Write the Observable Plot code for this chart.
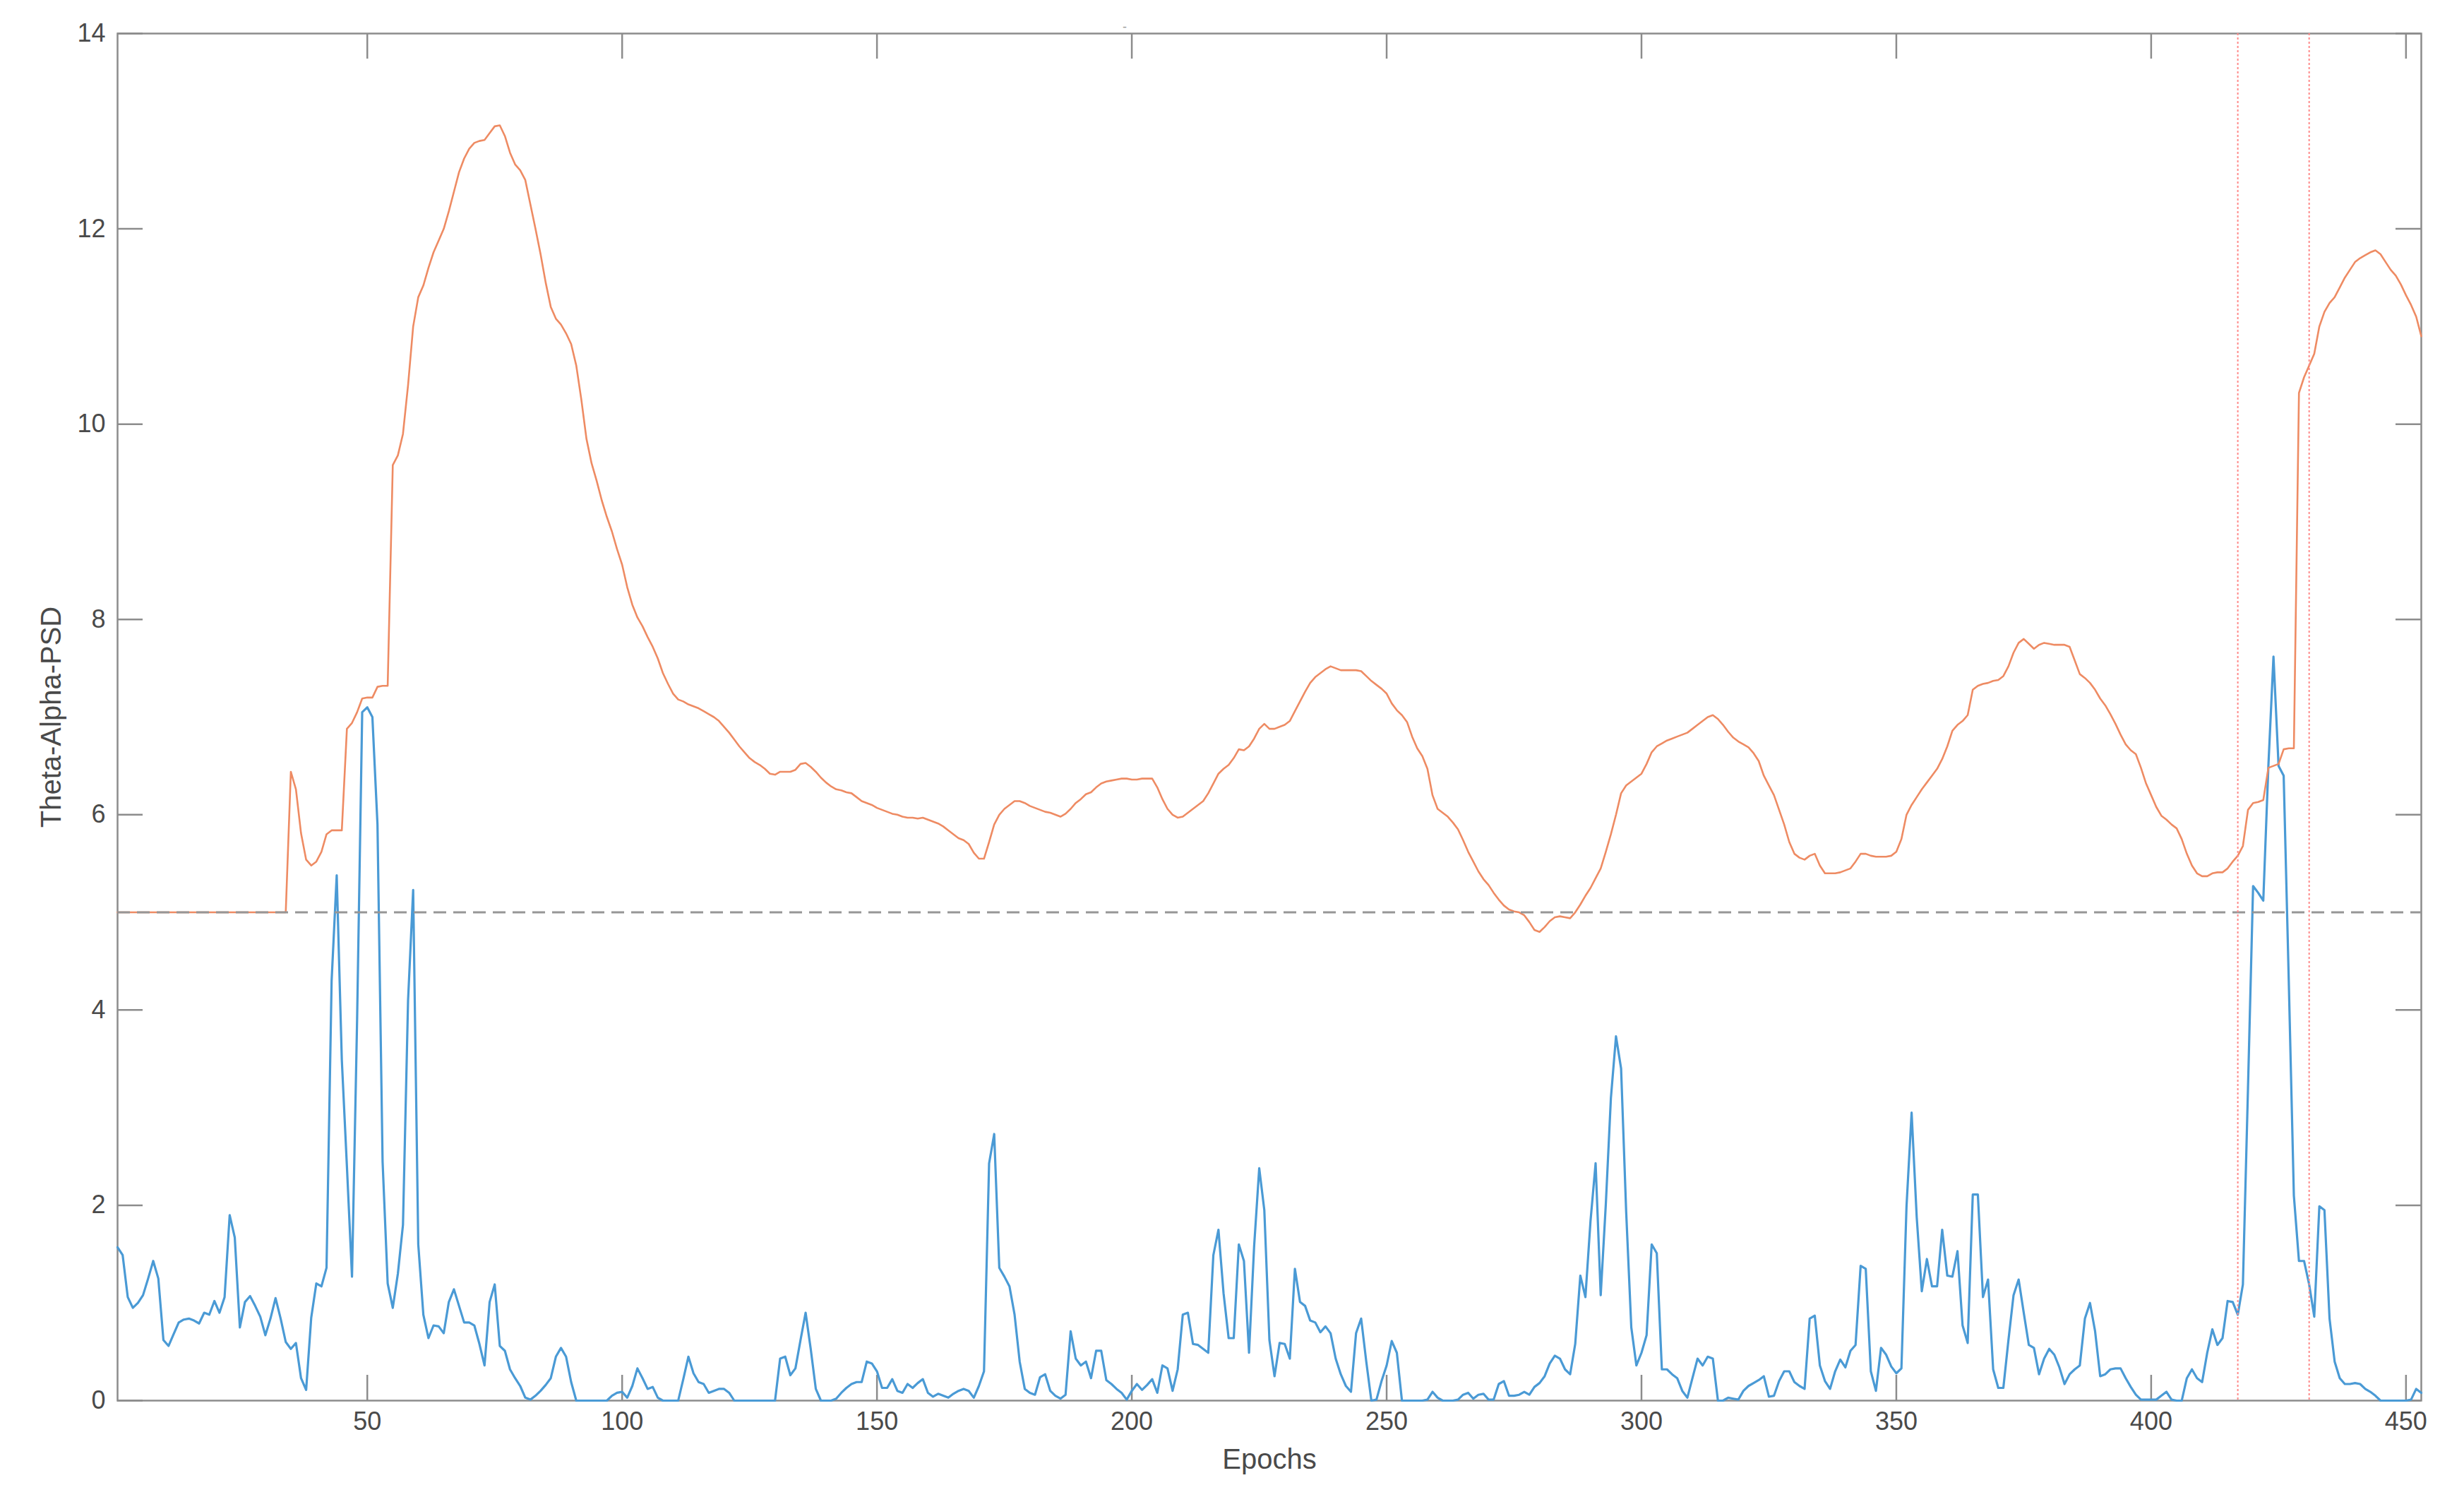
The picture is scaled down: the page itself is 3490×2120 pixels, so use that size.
<!DOCTYPE html>
<html>
<head>
<meta charset="utf-8">
<script src="https://cdn.jsdelivr.net/npm/d3@7"></script>
<script src="https://cdn.jsdelivr.net/npm/@observablehq/plot@0.6"></script>
<style>
  html, body { margin: 0; padding: 0; background: #ffffff; }
  #chart { width: 3490px; height: 2120px; }
</style>
</head>
<body>
<div id="chart"></div>
<script>
// ---------- data ----------
const firstEpoch = 1;
const xTicks = [50, 100, 150, 200, 250, 300, 350, 400, 450];
const yTicks = [0, 2, 4, 6, 8, 10, 12, 14];
const xLabel = "Epochs";
const yLabel = "Theta-Alpha-PSD";
const titleText = "-";
const threshold = 5;
const markerEpochs = [417, 431];

// blue series: per-epoch value
const thetaAlphaPSD = [
  1.57,1.49,1.06,0.95,1.00,1.08,1.25,1.43,1.25,0.62,
  0.56,0.68,0.80,0.83,0.84,0.82,0.79,0.90,0.88,1.02,
  0.90,1.06,1.90,1.67,0.75,1.01,1.07,0.97,0.86,0.67,
  0.84,1.05,0.84,0.60,0.53,0.59,0.23,0.11,0.85,1.20,
  1.17,1.36,4.30,5.38,3.49,2.40,1.27,3.90,7.05,7.10,
  7.00,5.90,2.45,1.20,0.95,1.30,1.80,4.10,5.23,1.60,
  0.88,0.64,0.77,0.76,0.69,1.01,1.14,0.97,0.80,0.80,
  0.77,0.58,0.36,1.01,1.19,0.56,0.51,0.32,0.23,0.15,
  0.03,0.01,0.05,0.10,0.16,0.23,0.45,0.54,0.45,0.19,
  0,0,0,0,0,0,0,0.05,0.08,0.09,
  0.03,0.15,0.33,0.23,0.12,0.14,0.03,0,0,0,
  0,0.22,0.45,0.28,0.19,0.17,0.08,0.10,0.12,0.12,
  0.08,0,0,0,0,0,0,0,0,0,
  0.43,0.45,0.26,0.33,0.62,0.90,0.53,0.12,0,0,
  0,0.02,0.08,0.13,0.17,0.19,0.19,0.40,0.38,0.30,
  0.13,0.13,0.22,0.10,0.08,0.17,0.13,0.18,0.22,0.08,
  0.04,0.07,0.05,0.03,0.07,0.10,0.12,0.10,0.03,0.15,
  0.30,2.43,2.73,1.36,1.27,1.17,0.88,0.40,0.12,0.08,
  0.06,0.24,0.27,0.10,0.05,0.02,0.06,0.71,0.43,0.36,
  0.40,0.23,0.51,0.51,0.21,0.17,0.12,0.08,0.01,0.10,
  0.17,0.11,0.16,0.22,0.08,0.36,0.33,0.10,0.32,0.88,
  0.90,0.58,0.57,0.53,0.49,1.49,1.75,1.10,0.64,0.64,
  1.60,1.43,0.49,1.58,2.38,1.95,0.62,0.25,0.59,0.58,
  0.43,1.35,1.01,0.97,0.82,0.80,0.70,0.76,0.69,0.43,
  0.27,0.15,0.09,0.69,0.84,0.40,0,0.01,0.20,0.36,
  0.61,0.49,0,0,0,0,0,0.01,0.09,0.03,
  0,0,0,0.01,0.06,0.08,0.02,0.06,0.07,0.01,
  0.01,0.17,0.20,0.05,0.05,0.06,0.09,0.06,0.14,0.18,
  0.25,0.38,0.46,0.43,0.32,0.27,0.58,1.28,1.06,1.84,
  2.43,1.08,2.01,3.10,3.73,3.40,1.93,0.75,0.36,0.49,
  0.67,1.60,1.51,0.32,0.32,0.27,0.23,0.10,0.03,0.23,
  0.43,0.36,0.45,0.43,0,0,0.03,0.02,0.01,0.10,
  0.15,0.18,0.21,0.25,0.04,0.05,0.20,0.30,0.30,0.19,
  0.15,0.12,0.84,0.87,0.36,0.20,0.12,0.30,0.42,0.34,
  0.51,0.57,1.38,1.35,0.30,0.10,0.54,0.47,0.35,0.28,
  0.33,1.99,2.95,1.88,1.12,1.45,1.17,1.17,1.75,1.28,
  1.27,1.53,0.77,0.59,2.11,2.11,1.06,1.24,0.32,0.13,
  0.13,0.62,1.08,1.24,0.90,0.57,0.54,0.27,0.43,0.53,
  0.47,0.34,0.17,0.27,0.32,0.36,0.84,1.00,0.71,0.25,
  0.27,0.32,0.33,0.33,0.23,0.14,0.06,0.01,0.01,0.01,
  0.01,0.05,0.09,0.01,0,0,0.23,0.32,0.23,0.19,
  0.49,0.73,0.57,0.64,1.02,1.01,0.88,1.19,3.20,5.27,
  5.20,5.12,6.50,7.62,6.50,6.40,4.30,2.10,1.43,1.43,
  1.19,0.86,1.99,1.95,0.84,0.40,0.23,0.17,0.17,0.18,
  0.17,0.12,0.09,0.05,0,0,0,0,0,0,
  0.01,0.12,0.08
];

// orange series: per-epoch value
const smoothedPSD = [
  5,5,5,5,5,5,5,5,5,5,
  5,5,5,5,5,5,5,5,5,5,
  5,5,5,5,5,5,5,5,5,5,
  5,5,5,5,6.44,6.26,5.81,5.54,5.48,5.52,
  5.62,5.80,5.84,5.84,5.84,6.88,6.94,7.05,7.19,7.20,
  7.20,7.31,7.32,7.32,9.58,9.68,9.90,10.40,11.00,11.30,
  11.42,11.60,11.76,11.88,12.00,12.18,12.38,12.58,12.72,12.82,
  12.88,12.90,12.91,12.98,13.05,13.06,12.95,12.78,12.66,12.60,
  12.50,12.25,12.00,11.74,11.45,11.20,11.08,11.02,10.93,10.82,
  10.60,10.25,9.85,9.60,9.42,9.22,9.05,8.90,8.72,8.56,
  8.33,8.15,8.02,7.93,7.82,7.72,7.60,7.45,7.34,7.24,
  7.18,7.16,7.13,7.11,7.09,7.06,7.03,7.00,6.96,6.90,
  6.84,6.77,6.70,6.64,6.58,6.54,6.51,6.47,6.42,6.41,
  6.44,6.44,6.44,6.46,6.52,6.53,6.49,6.44,6.38,6.33,
  6.29,6.26,6.25,6.23,6.22,6.18,6.14,6.12,6.10,6.07,
  6.05,6.03,6.01,6.00,5.98,5.97,5.97,5.96,5.97,5.95,
  5.93,5.91,5.88,5.84,5.80,5.76,5.74,5.70,5.61,5.55,
  5.55,5.72,5.90,6.00,6.06,6.10,6.14,6.14,6.12,6.09,
  6.07,6.05,6.03,6.02,6.00,5.98,6.01,6.06,6.12,6.16,
  6.21,6.23,6.28,6.32,6.34,6.35,6.36,6.37,6.37,6.36,
  6.36,6.37,6.37,6.37,6.28,6.16,6.06,6.00,5.97,5.98,
  6.02,6.06,6.10,6.14,6.22,6.32,6.42,6.47,6.51,6.58,
  6.67,6.66,6.70,6.78,6.88,6.93,6.88,6.88,6.90,6.92,
  6.96,7.06,7.16,7.26,7.35,7.41,7.45,7.49,7.52,7.50,
  7.48,7.48,7.48,7.48,7.47,7.42,7.37,7.33,7.29,7.24,
  7.14,7.07,7.02,6.95,6.80,6.68,6.60,6.47,6.20,6.06,
  6.02,5.98,5.92,5.85,5.74,5.62,5.52,5.42,5.34,5.28,
  5.20,5.13,5.07,5.03,5.01,5.00,4.97,4.90,4.82,4.80,
  4.85,4.91,4.95,4.96,4.95,4.94,5.00,5.08,5.17,5.25,
  5.35,5.45,5.62,5.80,6.00,6.22,6.30,6.34,6.38,6.42,
  6.52,6.64,6.70,6.73,6.76,6.78,6.80,6.82,6.84,6.88,
  6.92,6.96,7.00,7.02,6.98,6.92,6.85,6.79,6.75,6.72,
  6.69,6.63,6.55,6.40,6.30,6.20,6.05,5.90,5.72,5.60,
  5.56,5.54,5.58,5.60,5.48,5.40,5.40,5.40,5.41,5.43,
  5.45,5.52,5.60,5.60,5.58,5.57,5.57,5.57,5.58,5.62,
  5.75,6.00,6.10,6.18,6.26,6.33,6.40,6.47,6.57,6.70,
  6.86,6.92,6.96,7.02,7.28,7.32,7.34,7.35,7.37,7.38,
  7.42,7.52,7.66,7.76,7.80,7.75,7.70,7.74,7.76,7.75,
  7.74,7.74,7.74,7.72,7.58,7.44,7.40,7.35,7.28,7.19,
  7.12,7.03,6.93,6.82,6.72,6.66,6.62,6.48,6.32,6.20,
  6.08,5.99,5.95,5.90,5.86,5.75,5.60,5.48,5.40,5.37,
  5.37,5.40,5.41,5.41,5.45,5.52,5.58,5.68,6.05,6.12,
  6.13,6.15,6.48,6.50,6.52,6.67,6.68,6.68,10.32,10.48,
  10.60,10.72,11.00,11.15,11.24,11.30,11.40,11.50,11.58,11.66,
  11.70,11.73,11.76,11.78,11.74,11.66,11.58,11.52,11.43,11.32,
  11.22,11.10,10.90
];

// ---------- layout & style ----------
const W = 3490, H = 2120;
const mL = 166, mR = 61, mT = 47, mB = 137;
const innerW = W - mL - mR, innerH = H - mT - mB;
const tickLen = 36;
const axisColor = "#8c8c8c";
const textColor = "#4a4a4a";
const blueColor = "#4a9ad5";
const orangeColor = "#ee8b63";
const font = "'Liberation Sans', Arial, Helvetica, sans-serif";

const toRows = arr => arr.map((v, i) => ({epoch: firstEpoch + i, value: v}));
const blueRows = toRows(thetaAlphaPSD);
const orangeRows = toRows(smoothedPSD);
const lastEpoch = firstEpoch + thetaAlphaPSD.length - 1;

const chart = Plot.plot({
  width: W,
  height: H,
  marginLeft: mL,
  marginRight: mR,
  marginTop: mT,
  marginBottom: mB,
  style: {fontFamily: font, background: "#ffffff", color: textColor, overflow: "visible"},
  x: {domain: [firstEpoch, lastEpoch]},
  y: {domain: [yTicks[0], yTicks[yTicks.length - 1]]},
  marks: [
    Plot.frame({stroke: axisColor, strokeWidth: 2.5}),
    // inward ticks on all four sides (MATLAB box style)
    Plot.tickX(xTicks, {x: d => d, insetTop: innerH - tickLen, stroke: axisColor, strokeWidth: 2.5}),
    Plot.tickX(xTicks, {x: d => d, insetBottom: innerH - tickLen, stroke: axisColor, strokeWidth: 2.5}),
    Plot.tickY(yTicks, {y: d => d, insetRight: innerW - tickLen, stroke: axisColor, strokeWidth: 2.5}),
    Plot.tickY(yTicks, {y: d => d, insetLeft: innerW - tickLen, stroke: axisColor, strokeWidth: 2.5}),
    Plot.axisX(xTicks, {anchor: "bottom", tickSize: 0, tickPadding: 16, fontSize: 36, label: null, color: textColor, tickFormat: d => String(d)}),
    Plot.axisY(yTicks, {anchor: "left", tickSize: 0, tickPadding: 17, fontSize: 36, label: null, color: textColor, tickFormat: d => String(d)}),
    Plot.line(blueRows, {x: "epoch", y: "value", stroke: blueColor, strokeWidth: 3.2}),
    Plot.line(orangeRows, {x: "epoch", y: "value", stroke: orangeColor, strokeWidth: 2.6}),
    Plot.ruleY([threshold], {stroke: "#969696", strokeWidth: 3, strokeDasharray: "18,10"}),
    Plot.ruleX(markerEpochs, {stroke: "#ff8a8a", strokeWidth: 2, strokeDasharray: "3,3"}),
    Plot.text([xLabel], {text: d => d, frameAnchor: "bottom", dy: 96, fontSize: 40, fill: textColor, textAnchor: "middle"}),
    Plot.text([yLabel], {text: d => d, frameAnchor: "left", dx: -93, rotate: -90, fontSize: 40, fill: textColor, textAnchor: "middle"}),
    Plot.text([titleText], {text: d => d, frameAnchor: "top", dx: -205, dy: -16, fontSize: 18, fill: "#9a9a9a", textAnchor: "middle"})
  ]
});

document.getElementById("chart").appendChild(chart);
</script>
</body>
</html>
